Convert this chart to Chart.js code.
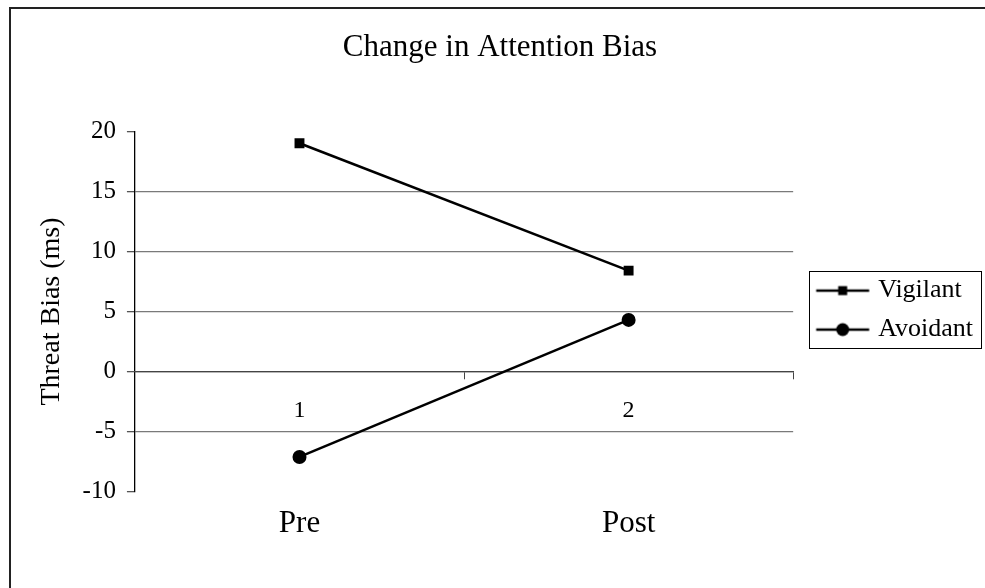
<!DOCTYPE html>
<html>
<head>
<meta charset="utf-8">
<script src="https://cdn.jsdelivr.net/npm/chart.js@4/dist/chart.umd.min.js"></script>
<style>
  html, body { margin: 0; padding: 0; background: #fff; }
  #wrap { width: 985px; height: 588px; }
</style>
</head>
<body>
<div id="wrap"><canvas id="chart" width="985" height="588"></canvas></div>
<script>
// data
const categories = ['1', '2'];
const phaseLabels = ['Pre', 'Post'];
const vigilant = [19.0, 8.4];
const avoidant = [-7.1, 4.3];
const yTicks = [-10, -5, 0, 5, 10, 15, 20];

const serif = 'Liberation Serif, Times New Roman, serif';

// line+marker glyphs for the legend (glyph sits a little right of the box centre)
function legendIcon(kind) {
  const c = document.createElement('canvas');
  c.width = 100; c.height = 20;
  const g = c.getContext('2d');
  const x0 = 30.5, x1 = 83.5, mid = (x0 + x1) / 2;
  g.strokeStyle = '#000';
  g.lineWidth = 2.5;
  g.beginPath(); g.moveTo(x0, 10); g.lineTo(x1, 10); g.stroke();
  g.fillStyle = '#000';
  if (kind === 'rect') {
    g.fillRect(mid - 4.5, 5.5, 9, 9);
  } else {
    g.beginPath(); g.arc(mid, 10, 6.5, 0, Math.PI * 2); g.fill();
  }
  return c;
}
const icons = [legendIcon('rect'), legendIcon('circle')];

// white page + the outer frame of the original figure
const framePlugin = {
  id: 'frame',
  beforeDraw(chart) {
    const ctx = chart.ctx;
    ctx.save();
    ctx.fillStyle = '#fff';
    ctx.fillRect(0, 0, chart.width, chart.height);
    ctx.strokeStyle = '#222';
    ctx.lineWidth = 2;
    ctx.beginPath();
    ctx.moveTo(10, chart.height);
    ctx.lineTo(10, 8);
    ctx.lineTo(chart.width, 8);
    ctx.stroke();
    ctx.restore();
  }
};

// box around the legend entries
const legendBoxPlugin = {
  id: 'legendBox',
  afterDraw(chart) {
    const lg = chart.legend;
    const hb = lg && lg.legendHitBoxes;
    if (!hb || !hb.length) return;
    const left = lg.left + 16;
    const right = Math.max(...hb.map(h => h.left + h.width)) + 8;
    const top = hb[0].top - 7;
    const bottom = hb[hb.length - 1].top + hb[hb.length - 1].height + 5;
    const ctx = chart.ctx;
    ctx.save();
    ctx.strokeStyle = '#000';
    ctx.lineWidth = 1;
    ctx.strokeRect(Math.round(left) + 0.5, Math.round(top) + 0.5, Math.round(right - left), Math.round(bottom - top));
    ctx.restore();
  }
};

new Chart(document.getElementById('chart'), {
  type: 'line',
  data: {
    labels: categories,
    datasets: [
      {
        label: 'Vigilant',
        data: vigilant,
        borderColor: '#000',
        backgroundColor: '#000',
        borderWidth: 2.5,
        pointStyle: 'rect',
        pointRadius: 7,
        pointBorderWidth: 0,
        tension: 0
      },
      {
        label: 'Avoidant',
        data: avoidant,
        borderColor: '#000',
        backgroundColor: '#000',
        borderWidth: 2.5,
        pointStyle: 'circle',
        pointRadius: 7,
        pointBorderWidth: 0,
        tension: 0
      }
    ]
  },
  options: {
    responsive: false,
    animation: false,
    layout: { padding: { left: 17, right: 2, top: 0, bottom: 41 } },
    plugins: {
      title: {
        display: true,
        text: 'Change in Attention Bias',
        color: '#000',
        font: { family: serif, size: 31, weight: 'normal' },
        padding: { top: 29, bottom: 65 }
      },
      legend: {
        position: 'right',
        title: { display: true, text: '', font: { size: 1 }, padding: { top: 0, bottom: 72 } },
        labels: {
          color: '#000',
          font: { family: serif, size: 26 },
          usePointStyle: true,
          pointStyleWidth: 59,
          padding: 13,
          generateLabels(chart) {
            const items = Chart.defaults.plugins.legend.labels.generateLabels(chart);
            items.forEach((it, i) => { it.pointStyle = icons[i]; });
            return items;
          }
        }
      },
      tooltip: { enabled: false }
    },
    scales: {
      y: {
        min: -10,
        max: 20,
        afterBuildTicks(scale) { scale.ticks = yTicks.map(v => ({ value: v })); },
        ticks: { color: '#000', font: { family: serif, size: 25 }, padding: 11 },
        grid: {
          color: ctx => (ctx.tick && (ctx.tick.value === 20 || ctx.tick.value === -10)) ? 'rgba(0,0,0,0)' : '#7a7a7a',
          tickColor: '#555',
          tickLength: 8,
          lineWidth: 1.3
        },
        border: { color: '#000', width: 1.3 },
        title: {
          display: true,
          text: 'Threat Bias (ms)',
          color: '#000',
          font: { family: serif, size: 28 },
          padding: { top: 18, bottom: 3 }
        }
      },
      x: {
        type: 'category',
        position: { y: 0 },
        offset: true,
        ticks: { color: '#000', font: { family: serif, size: 24 }, padding: 18, maxRotation: 0 },
        grid: { offset: true, drawOnChartArea: false, tickLength: 7, tickColor: '#444' },
        border: { color: '#444', width: 1.3 }
      },
      x2: {
        type: 'category',
        labels: phaseLabels,
        position: 'bottom',
        offset: true,
        ticks: { color: '#000', font: { family: serif, size: 31 }, padding: 5, maxRotation: 0 },
        grid: { display: false },
        border: { display: false }
      }
    }
  },
  plugins: [framePlugin, legendBoxPlugin]
});
</script>
</body>
</html>
